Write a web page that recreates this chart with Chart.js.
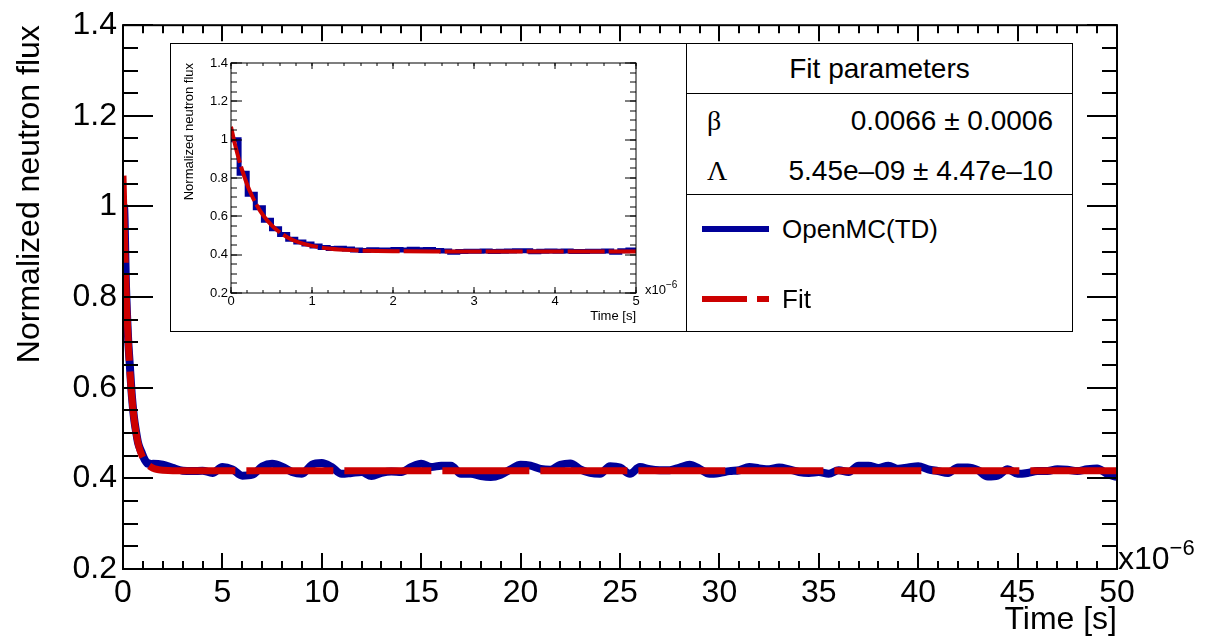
<!DOCTYPE html>
<html>
<head>
<meta charset="utf-8">
<script src="https://cdn.jsdelivr.net/npm/chart.js@4.4.0/dist/chart.umd.min.js"></script>
<style>
  body { margin: 0; background: #fff; font-family: "Liberation Sans", Arial, sans-serif; color: #000; }
  #wrap { position: relative; width: 1206px; height: 639px; overflow: hidden; }
  #mainChart { position: absolute; left: 0; top: 0; }
  #insetBox { position: absolute; left: 170px; top: 43px; width: 518px; height: 289px; border: 1.5px solid #000; box-sizing: border-box; background: #fff; }
  #insetChart { position: absolute; left: 0; top: 0; }
  #legend { position: absolute; left: 686px; top: 43px; width: 387px; height: 289px; border: 1.5px solid #000; box-sizing: border-box; background: #fff; }
  #legend .hdr { height: 49px; border-bottom: 1.5px solid #000; font-size: 28px; text-align: center; line-height: 49px; }
  #legend .params { height: 100px; border-bottom: 1.5px solid #000; position: relative; }
  #legend .row { position: absolute; left: 0; right: 0; height: 40px; line-height: 40px; font-size: 28px; }
  #legend .sym { position: absolute; left: 20px; font-family: "Liberation Serif", "Times New Roman", serif; }
  #legend .val { position: absolute; right: 19px; }
  #legend .entry { position: absolute; left: 95px; font-size: 26px; line-height: 30px; }
  .seg { position: absolute; height: 6px; }
  .exp { position: absolute; white-space: nowrap; line-height: 1; }
  .exp sup { vertical-align: 0; position: relative; }
</style>
</head>
<body>
<div id="wrap">
  <canvas id="mainChart" width="1206" height="639"></canvas>
  <div class="exp" style="left:1118px; top:542px; font-size:32px;">x10<sup style="font-size:22px; top:-14px;">−6</sup></div>
  <div id="insetBox">
    <canvas id="insetChart" width="515" height="286"></canvas>
    <div class="exp" style="left:474px; top:239px; font-size:13px;">x10<sup style="font-size:10px; top:-6px;">−6</sup></div>
  </div>
  <div id="legend">
    <div class="hdr">Fit parameters</div>
    <div class="params">
      <div class="row" style="top:7px;"><span class="sym">β</span><span class="val">0.0066 ± 0.0006</span></div>
      <div class="row" style="top:57px;"><span class="sym">Λ</span><span class="val">5.45e–09 ± 4.47e–10</span></div>
    </div>
    <div class="seg" style="left:15px; top:182px; width:67px; background:#000099;"></div>
    <div class="entry" style="top:170px;">OpenMC(TD)</div>
    <div class="seg" style="left:15px; top:252px; width:45px; background:#cc0000;"></div>
    <div class="seg" style="left:70px; top:252px; width:12px; background:#cc0000;"></div>
    <div class="entry" style="top:240px;">Fit</div>
  </div>
</div>
<script>
// histogram bins of 0.1e-6 s (inset range 0 - 5e-6 s), bin start times in units of 1e-6 s
const fineStep = 0.1;
const fineFlux = [
  1.000, 0.825, 0.715, 0.645, 0.580, 0.535, 0.505, 0.480, 0.466, 0.456,
  0.445, 0.437, 0.432, 0.433, 0.429, 0.425, 0.422, 0.426, 0.425, 0.424,
  0.427, 0.425, 0.428, 0.426, 0.427, 0.422, 0.419, 0.412, 0.417, 0.418,
  0.418, 0.419, 0.416, 0.418, 0.419, 0.420, 0.421, 0.415, 0.418, 0.419,
  0.418, 0.419, 0.417, 0.416, 0.418, 0.418, 0.419, 0.413, 0.421, 0.424
];

// main plot flux read every 0.5e-6 s from 1.5e-6 s to 50e-6 s
const coarseStart = 1.5;
const coarseStep = 0.5;
const coarseFlux = [
  0.432, 0.430, 0.423, 0.417, 0.416, 0.417, 0.412, 0.425, 0.420, 0.406,
  0.408, 0.426, 0.432, 0.426, 0.414, 0.410, 0.430, 0.434, 0.425, 0.410,
  0.412, 0.414, 0.405, 0.412, 0.415, 0.414, 0.425, 0.432, 0.425, 0.428,
  0.428, 0.410, 0.410, 0.405, 0.403, 0.408, 0.420, 0.430, 0.428, 0.421,
  0.419, 0.430, 0.433, 0.420, 0.412, 0.410, 0.427, 0.424, 0.410, 0.425,
  0.420, 0.418, 0.418, 0.424, 0.430, 0.421, 0.410, 0.412, 0.416, 0.418,
  0.425, 0.422, 0.420, 0.424, 0.420, 0.414, 0.412, 0.414, 0.410, 0.418,
  0.414, 0.428, 0.428, 0.423, 0.428, 0.421, 0.424, 0.427, 0.420, 0.416,
  0.412, 0.424, 0.424, 0.418, 0.404, 0.406, 0.420, 0.410, 0.412, 0.416,
  0.416, 0.420, 0.419, 0.416, 0.420, 0.422, 0.410, 0.403
];

// fit curve
const fitTime = [0, 0.05, 0.1, 0.15, 0.2, 0.25, 0.3, 0.4, 0.5, 0.6, 0.7, 0.8, 0.9, 1.0, 1.2, 1.4, 1.6, 1.8, 2.0, 2.5, 3, 5, 10, 20, 30, 40, 50];
const fitFlux = [1.068, 0.974, 0.894, 0.825, 0.765, 0.715, 0.672, 0.604, 0.554, 0.517, 0.490, 0.470, 0.456, 0.446, 0.432, 0.425, 0.421, 0.419, 0.418, 0.417, 0.417, 0.417, 0.417, 0.417, 0.417, 0.417, 0.417];

const xTicksMain = [0, 5, 10, 15, 20, 25, 30, 35, 40, 45, 50];
const xTicksInset = [0, 1, 2, 3, 4, 5];
const yTicks = [0.2, 0.4, 0.6, 0.8, 1.0, 1.2, 1.4];

const FONT = '"Liberation Sans", Arial, sans-serif';
const BLUE = '#000099';
const RED = '#cc0000';

// inset histogram: bin edges, stepped
const insetHist = fineFlux.map((v, i) => ({ x: i * fineStep, y: v }));
insetHist.push({ x: fineFlux.length * fineStep, y: fineFlux[fineFlux.length - 1] });

// main curve: fine bins up to coarseStart, then the coarse readings
const mainHist = [{ x: 0, y: fineFlux[0] }];
fineFlux.forEach((v, i) => {
  const c = (i + 0.5) * fineStep;
  if (c < coarseStart) mainHist.push({ x: c, y: v });
});
coarseFlux.forEach((v, i) => mainHist.push({ x: coarseStart + i * coarseStep, y: v }));

const fitPts = fitTime.map((t, i) => ({ x: t, y: fitFlux[i] }));

// ROOT style frame with inward ticks on all four sides
const rootFrame = {
  id: 'rootFrame',
  afterDatasetsDraw(chart, args, o) {
    const { ctx, chartArea: a, scales: { x, y } } = chart;
    ctx.save();
    ctx.strokeStyle = '#000';
    ctx.lineWidth = o.lw;
    ctx.beginPath();
    const tx = (v, len) => {
      const p = Math.round(x.getPixelForValue(v));
      ctx.moveTo(p, a.bottom); ctx.lineTo(p, a.bottom - len);
      ctx.moveTo(p, a.top); ctx.lineTo(p, a.top + len);
    };
    const ty = (v, len) => {
      const p = Math.round(y.getPixelForValue(v));
      ctx.moveTo(a.left, p); ctx.lineTo(a.left + len, p);
      ctx.moveTo(a.right, p); ctx.lineTo(a.right - len, p);
    };
    for (let v = x.min; v <= x.max + 1e-9; v += o.xMinor) tx(v, o.xMinorLen);
    x.ticks.forEach(t => tx(t.value, o.xMajorLen));
    for (let v = y.min; v <= y.max + 1e-9; v += o.yMinor) ty(v, o.yMinorLen);
    y.ticks.forEach(t => ty(t.value, o.yMajorLen));
    ctx.stroke();
    ctx.strokeRect(a.left, a.top, a.width, a.height);
    ctx.restore();
  }
};

const fmt = v => String(Number(v.toFixed(2)));

function axes(cfg) {
  return {
    x: {
      type: 'linear', min: 0, max: cfg.xMax,
      afterBuildTicks: s => { s.ticks = cfg.xTicks.map(v => ({ value: v })); },
      afterFit: s => { s.height = cfg.xHeight; },
      grid: { display: false, drawTicks: false },
      border: { display: false },
      ticks: { color: '#000', font: { family: FONT, size: cfg.font }, padding: cfg.xPad, maxRotation: 0, autoSkip: false, callback: fmt },
      title: { display: true, text: 'Time [s]', align: 'end', color: '#000', font: { family: FONT, size: cfg.font }, padding: { top: 0, bottom: cfg.xTitlePad } }
    },
    y: {
      min: 0.2, max: 1.4,
      afterBuildTicks: s => { s.ticks = yTicks.map(v => ({ value: v })); },
      afterFit: s => { s.width = cfg.yWidth; },
      grid: { display: false, drawTicks: false },
      border: { display: false },
      ticks: { color: '#000', font: { family: FONT, size: cfg.font }, padding: cfg.yPad, autoSkip: false, callback: fmt },
      title: { display: true, text: 'Normalized neutron flux', align: 'end', color: '#000', font: { family: FONT, size: cfg.font }, padding: { top: cfg.yTitlePad, bottom: 0 } }
    }
  };
}

new Chart(document.getElementById('mainChart'), {
  type: 'line',
  data: {
    datasets: [
      { label: 'OpenMC(TD)', data: mainHist, borderColor: BLUE, borderWidth: 8, pointRadius: 0, cubicInterpolationMode: 'monotone', order: 2 },
      { label: 'Fit', data: fitPts, borderColor: RED, borderWidth: 7, borderDash: [87, 11], pointRadius: 0, cubicInterpolationMode: 'monotone', order: 1 }
    ]
  },
  options: {
    responsive: false, animation: false, devicePixelRatio: 1,
    layout: { padding: { left: 0, right: 89, top: 20, bottom: 0 } },
    scales: axes({ xMax: 50, xTicks: xTicksMain, xHeight: 70, yWidth: 123, font: 32, xPad: 5, yPad: 6, xTitlePad: 0, yTitlePad: 11 }),
    plugins: {
      legend: { display: false }, tooltip: { enabled: false },
      rootFrame: { lw: 2, xMinor: 1, xMinorLen: 8, xMajorLen: 16, yMinor: 0.05, yMinorLen: 15, yMajorLen: 30 }
    }
  },
  plugins: [rootFrame]
});

new Chart(document.getElementById('insetChart'), {
  type: 'line',
  data: {
    datasets: [
      { label: 'OpenMC(TD)', data: insetHist, borderColor: BLUE, borderWidth: 5, pointRadius: 0, stepped: 'before', order: 2 },
      { label: 'Fit', data: fitPts, borderColor: RED, borderWidth: 4, borderDash: [37, 4], pointRadius: 0, cubicInterpolationMode: 'monotone', order: 1 }
    ]
  },
  options: {
    responsive: false, animation: false, devicePixelRatio: 1,
    layout: { padding: { left: 0, right: 50, top: 19, bottom: 0 } },
    scales: axes({ xMax: 5, xTicks: xTicksInset, xHeight: 37, yWidth: 60, font: 13, xPad: 1, yPad: 3, xTitlePad: 6, yTitlePad: 11 }),
    plugins: {
      legend: { display: false }, tooltip: { enabled: false },
      rootFrame: { lw: 1, xMinor: 0.2, xMinorLen: 3, xMajorLen: 6, yMinor: 0.05, yMinorLen: 6, yMajorLen: 11 }
    }
  },
  plugins: [rootFrame]
});
</script>
</body>
</html>
